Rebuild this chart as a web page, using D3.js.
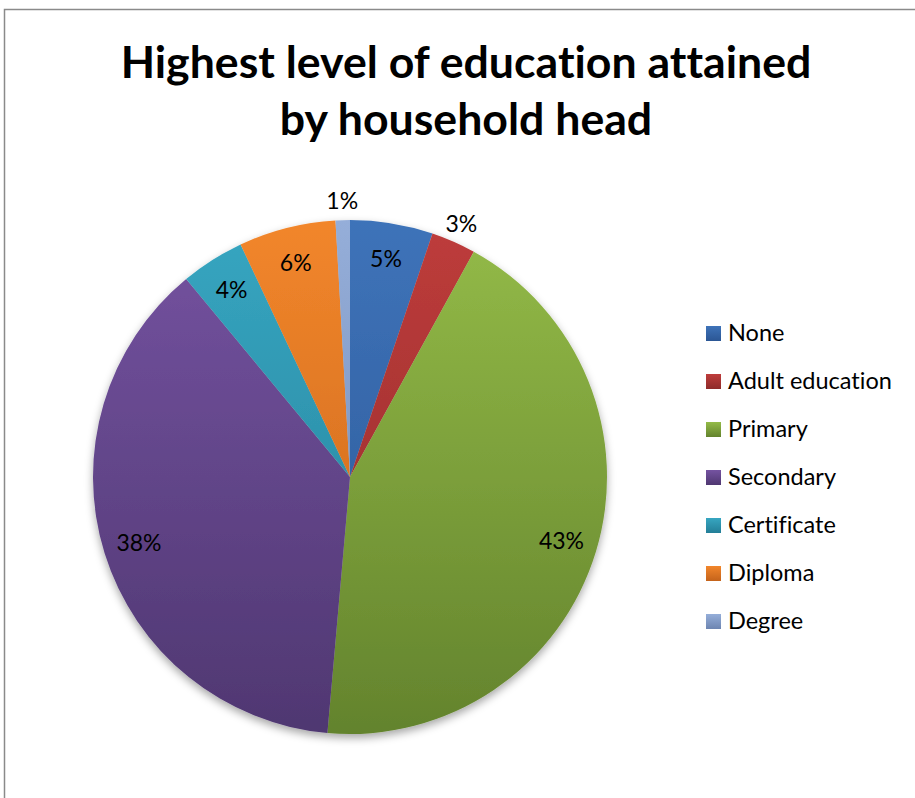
<!DOCTYPE html>
<html>
<head>
<meta charset="utf-8">
<script src="https://cdn.jsdelivr.net/npm/d3@7"></script>
<style>
  html, body { margin: 0; padding: 0; background: #fff; }
  svg { display: block; font-family: Lato, "Open Sans", sans-serif; font-variant-ligatures: none; }
</style>
</head>
<body>
<div id="chart"></div>
<script>
// Highest level of education attained by household head - pie chart
const categories = ["None", "Adult education", "Primary", "Secondary", "Certificate", "Diploma", "Degree"]
const shares = [5.2, 2.8, 43.4, 37.6, 4.0, 6.1, 0.9]
const labels = ["5%", "3%", "43%", "38%", "4%", "6%", "1%"]
const titleLines = ["Highest level of education attained", "by household head"]

const lightColors = ["#3e73b9", "#be3c3b", "#94bb48", "#7553a1", "#37a6c1", "#f2862b", "#95aed9"]
const darkColors = ["#2b5694", "#8e2b2a", "#63832d", "#4f3771", "#237e97", "#c4631b", "#6d85b1"]

const width = 915, height = 798
const cx = 350, cy = 477, radius = 257

const svg = d3.select("#chart").append("svg")
  .attr("width", width)
  .attr("height", height)

// frame of the chart area
svg.append("path")
  .attr("d", `M4.5,${height} V9.5 H${width}`)
  .attr("fill", "none")
  .attr("stroke", "#8a8a8a")
  .attr("stroke-width", 1.5)

const defs = svg.append("defs")

const shadow = defs.append("filter")
  .attr("id", "shadow")
  .attr("x", "-10%").attr("y", "-10%")
  .attr("width", "120%").attr("height", "125%")
shadow.append("feDropShadow")
  .attr("dx", 0).attr("dy", 4)
  .attr("stdDeviation", 4)
  .attr("flood-color", "#000")
  .attr("flood-opacity", 0.35)

// vertical gradient per slice, over the pie height (pie group coordinates)
categories.forEach((c, i) => {
  const g = defs.append("linearGradient")
    .attr("id", `grad${i}`)
    .attr("gradientUnits", "userSpaceOnUse")
    .attr("x1", 0).attr("x2", 0)
    .attr("y1", -radius).attr("y2", radius)
  g.append("stop").attr("offset", "0%").attr("stop-color", lightColors[i])
  g.append("stop").attr("offset", "100%").attr("stop-color", darkColors[i])

  const lg = defs.append("linearGradient")
    .attr("id", `lg${i}`)
    .attr("x1", 0).attr("x2", 0).attr("y1", 0).attr("y2", 1)
  lg.append("stop").attr("offset", "0%").attr("stop-color", lightColors[i])
  lg.append("stop").attr("offset", "100%").attr("stop-color", darkColors[i])
})

// Title
const title = svg.append("text")
  .attr("text-anchor", "middle")
  .attr("font-weight", "bold")
  .attr("fill", "#000")

title.selectAll("tspan")
  .data(titleLines)
  .enter()
  .append("tspan")
  .attr("x", 466)
  .attr("y", (d, i) => 78 + i * 57)
  .text(d => d)

// fit the first title line to the width it has in the picture
title.attr("font-size", 40)
const firstLen = title.select("tspan").node().getComputedTextLength()
title.attr("font-size", 40 * 691 / firstLen)

// Pie
const pie = d3.pie()
  .sort(null)
  .value(d => d)

const arcs = pie(shares)
const arc = d3.arc().innerRadius(0).outerRadius(radius)

const pieG = svg.append("g")
  .attr("transform", `translate(${cx},${cy})`)

pieG.append("g")
  .attr("filter", "url(#shadow)")
  .selectAll("path")
  .data(arcs)
  .enter()
  .append("path")
  .attr("d", arc)
  .attr("fill", (d, i) => `url(#grad${i})`)

const inner = d3.arc().innerRadius(radius * 0.86).outerRadius(radius * 0.86)
const outer = d3.arc().innerRadius(radius * 1.075).outerRadius(radius * 1.075)

pieG.selectAll("text.label")
  .data(arcs)
  .enter()
  .append("text")
  .attr("class", "label")
  .attr("transform", d => {
    const p = d.data < 3.5 ? outer.centroid(d) : inner.centroid(d)
    return `translate(${p[0]},${p[1]})`
  })
  .attr("text-anchor", "middle")
  .attr("dy", "0.35em")
  .attr("font-size", 23)
  .attr("fill", "#000")
  .text((d, i) => labels[i])

// Legend
const legend = svg.append("g")
  .attr("transform", "translate(706,333)")

const items = legend.selectAll("g")
  .data(categories)
  .enter()
  .append("g")
  .attr("transform", (d, i) => `translate(0,${i * 48})`)

items.append("rect")
  .attr("x", 0).attr("y", -7)
  .attr("width", 15).attr("height", 15)
  .attr("fill", (d, i) => `url(#lg${i})`)

items.append("text")
  .attr("x", 22)
  .attr("dy", "0.35em")
  .attr("font-size", 23.5)
  .attr("fill", "#000")
  .text(d => d)
</script>
</body>
</html>
